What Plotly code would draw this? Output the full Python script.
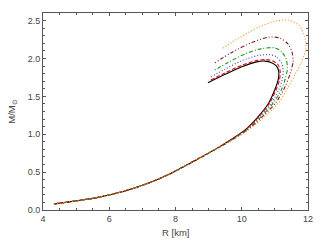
import plotly.graph_objects as go

# Shared low-mass branch (R in km, M in solar masses)
low_R = [4.33, 5.0, 5.7, 6.7, 7.7, 8.7, 9.2]
low_M = [0.08, 0.12, 0.17, 0.28, 0.45, 0.68, 0.80]

black_R = [9.61, 10.11, 10.51, 10.81, 11.0, 11.1, 11.12, 11.05, 10.9, 10.7, 10.45, 10.0, 9.5, 8.98]
black_M = [0.91, 1.06, 1.24, 1.41, 1.59, 1.72, 1.82, 1.90, 1.945, 1.965, 1.955, 1.89, 1.79, 1.68]

red_R = [9.62, 10.12, 10.53, 10.84, 11.04, 11.14, 11.16, 11.09, 10.94, 10.74, 10.48, 10.0, 9.5, 9.0]
red_M = [0.91, 1.06, 1.24, 1.41, 1.59, 1.72, 1.83, 1.92, 1.965, 1.985, 1.975, 1.91, 1.81, 1.70]

blue_R = [9.63, 10.14, 10.56, 10.9, 11.12, 11.22, 11.25, 11.2, 11.05, 10.85, 10.5, 10.0, 9.5, 9.08]
blue_M = [0.91, 1.06, 1.24, 1.41, 1.59, 1.72, 1.84, 1.94, 2.02, 2.05, 2.04, 1.97, 1.86, 1.76]

green_R = [9.64, 10.16, 10.6, 10.95, 11.2, 11.32, 11.38, 11.33, 11.2, 11.0, 10.6, 10.1, 9.6, 9.12]
green_M = [0.91, 1.06, 1.24, 1.41, 1.59, 1.74, 1.88, 2.0, 2.09, 2.14, 2.13, 2.06, 1.95, 1.83]

maroon_R = [9.65, 10.18, 10.64, 11.02, 11.3, 11.46, 11.55, 11.52, 11.4, 11.15, 10.8, 10.3, 9.7, 9.18]
maroon_M = [0.91, 1.06, 1.24, 1.41, 1.62, 1.80, 1.96, 2.08, 2.19, 2.27, 2.28, 2.21, 2.08, 1.94]

orange_R = [9.66, 10.21, 10.71, 11.11, 11.36, 11.6, 11.8, 11.93, 11.9, 11.72, 11.4, 11.0, 10.5, 9.95, 9.38]
orange_M = [0.91, 1.06, 1.24, 1.41, 1.59, 1.78, 1.95, 2.12, 2.29, 2.44, 2.505, 2.49, 2.41, 2.28, 2.12]

series = [
    ("black", black_R, black_M, "#000000", "solid"),
    ("red", red_R, red_M, "#ee0000", "4px,2px"),
    ("blue", blue_R, blue_M, "#3a3acc", "1px,2px"),
    ("green", green_R, green_M, "#1f9a1f", "4px,2px,1px,2px"),
    ("maroon", maroon_R, maroon_M, "#8b1a1a", "4px,2px,1px,2px,1px,2px"),
    ("orange", orange_R, orange_M, "#ff8c1a", "1px,2px"),
]

fig = go.Figure()
for name, r, m, col, dash in series:
    fig.add_trace(go.Scatter(
        x=low_R + r, y=low_M + m, mode="lines", name=name,
        line=dict(color=col, dash=dash, width=1.1, shape="spline", smoothing=0.8),
        showlegend=False,
    ))

FONT = "Liberation Sans, Arial, sans-serif"
FRAME = "#555555"
base = dict(showgrid=False, zeroline=False, showline=True, linecolor=FRAME, linewidth=1,
            ticks="inside", ticklen=3, tickcolor=FRAME, automargin=False,
            tickfont=dict(family=FONT, size=9, color="#444444"))

fig.update_layout(
    width=322, height=246,
    margin=dict(l=43, r=14, t=13, b=36),
    paper_bgcolor="white", plot_bgcolor="white",
    xaxis=dict(range=[4, 12], dtick=2, tick0=4,
               minor=dict(dtick=0.5, ticks="inside", ticklen=2, tickcolor=FRAME), **base),
    yaxis=dict(range=[0, 2.6], dtick=0.5, tick0=0, tickformat=".1f",
               minor=dict(dtick=0.1, ticks="inside", ticklen=2, tickcolor=FRAME), **base),
    xaxis2=dict(range=[4, 12], dtick=2, tick0=4, overlaying="x", side="top", showticklabels=False,
                minor=dict(dtick=0.5, ticks="inside", ticklen=2, tickcolor=FRAME), **base),
    yaxis2=dict(range=[0, 2.6], dtick=0.5, tick0=0, overlaying="y", side="right", showticklabels=False,
                minor=dict(dtick=0.1, ticks="inside", ticklen=2, tickcolor=FRAME), **base),
)
# invisible trace to activate the mirrored axes
fig.add_trace(go.Scatter(x=[4], y=[0], xaxis="x2", yaxis="y2", mode="markers",
                         marker=dict(opacity=0), showlegend=False, hoverinfo="skip"))

fig.add_annotation(text="R [km]", xref="paper", yref="paper", x=0.5, y=-0.112,
                   showarrow=False, font=dict(family=FONT, size=9.5, color="#444444"),
                   xanchor="center", yanchor="middle")
fig.add_annotation(text="M/M<sub>⊙</sub>", xref="paper", yref="paper", x=-0.12, y=0.5,
                   showarrow=False, textangle=-90, font=dict(family=FONT, size=9.5, color="#444444"),
                   xanchor="center", yanchor="middle")
fig.write_html("out.html", config={"responsive": False, "displayModeBar": False},
               post_script="document.body.style.margin='0';document.body.style.overflow='hidden';")
